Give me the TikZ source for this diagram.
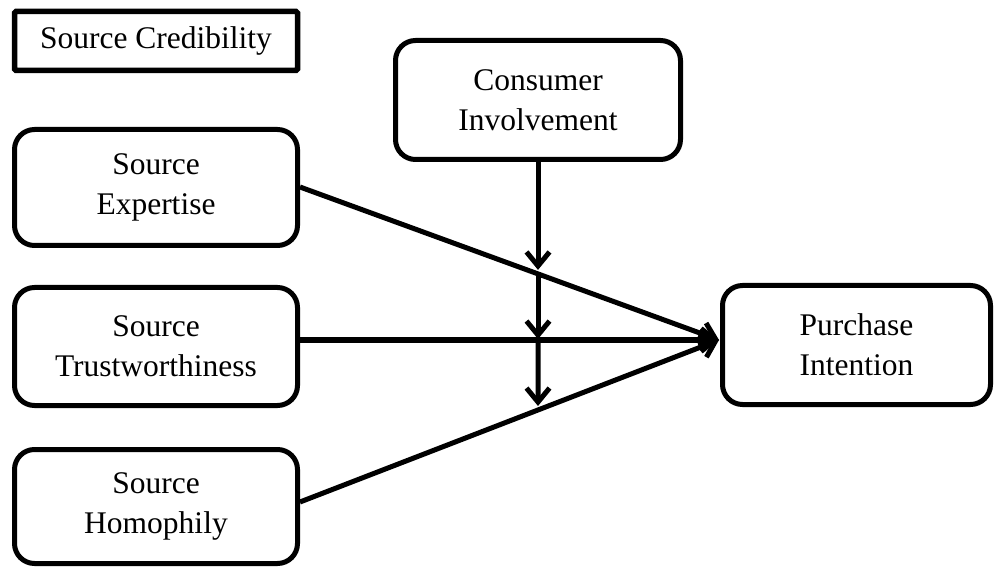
\documentclass[tikz,border=0pt]{standalone}
\usepackage{fontspec}
\setmainfont{Liberation Serif}
\usetikzlibrary{arrows.meta,calc}
\begin{document}
\begin{tikzpicture}[x=1pt,y=-1pt,
  box/.style={draw,line width=5pt,rounded corners=20pt,align=center,inner sep=0pt,
    font=\fontsize{31.5}{40}\selectfont},
  titlebox/.style={draw,line width=5.5pt,rounded corners=1.5pt,inner sep=0pt,
    font=\fontsize{31.5}{40}\selectfont},
  link/.style={line width=5pt,-{Straight Barb[length=14pt,width=23pt]}}]
\useasboundingbox (0,0) rectangle (996,569);
\node[titlebox,minimum width=283pt,minimum height=59pt] (sc) at (156,41) {Source Credibility};
\node[box,minimum width=285pt,minimum height=119pt] (ci) at (538,100) {Consumer\\Involvement};
\node[box,minimum width=283pt,minimum height=116pt] (se) at (156,187.5) {Source\\Expertise};
\node[box,minimum width=283pt,minimum height=118pt] (st) at (156,346.5) {Source\\Trustworthiness};
\node[box,minimum width=283pt,minimum height=114pt] (sh) at (156,506.5) {Source\\Homophily};
\node[box,minimum width=268pt,minimum height=119pt] (pi) at (856.5,345) {Purchase\\Intention};
\coordinate (tip) at (719,340);
\coordinate (seo) at (300,187);
\coordinate (sto) at (300,340);
\coordinate (sho) at (300,502);
\draw[link] (seo) -- (tip);
\draw[link] (sto) -- (tip);
\draw[link] (sho) -- (tip);
\coordinate (m1) at (intersection of ci.south--538,600 and seo--tip);
\coordinate (m2) at (intersection of ci.south--538,600 and sto--tip);
\coordinate (m3) at (intersection of ci.south--538,600 and sho--tip);
\draw[link,shorten >=4pt] (ci.south) -- (m1);
\draw[link,shorten >=1pt] (m1) -- (m2);
\draw[link,shorten >=4pt] (m2) -- (m3);
\end{tikzpicture}
\end{document}
